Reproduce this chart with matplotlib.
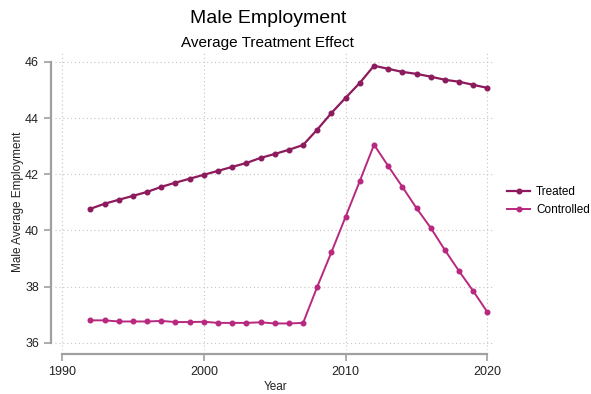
import matplotlib
matplotlib.use("Agg")
from matplotlib import pyplot as plt

plt.rcParams['font.family'] = ['Liberation Sans', 'DejaVu Sans']

years = list(range(1992, 2021))
treated = [40.77, 40.95, 41.09, 41.23, 41.37, 41.55, 41.70, 41.84, 41.98,
           42.12, 42.26, 42.40, 42.58, 42.72, 42.87, 43.04, 43.59, 44.18,
           44.72, 45.25, 45.86, 45.75, 45.64, 45.57, 45.47, 45.36, 45.29,
           45.18, 45.07]
controlled = [36.80, 36.80, 36.76, 36.76, 36.76, 36.78, 36.74, 36.74, 36.75,
              36.71, 36.71, 36.71, 36.73, 36.69, 36.69, 36.71, 38.00, 39.23,
              40.49, 41.76, 43.05, 42.29, 41.55, 40.79, 40.09, 39.30, 38.55,
              37.84, 37.09]
xticks = [1990, 2000, 2010, 2020]
yticks = [36, 38, 40, 42, 44, 46]

fig = plt.figure(figsize=(5.91, 3.94), dpi=100)
ax = fig.add_axes([0.093, 0.112, 0.745, 0.754])

ax.plot(years, treated, "o-", color="#8c1a5c", lw=1.6, ms=3.3, label="Treated")
ax.plot(years, controlled, "o-", color="#b8287f", lw=1.4, ms=3.3, label="Controlled")

ax.set_xlim(1989.5, 2020.55)
ax.set_ylim(35.75, 46.32)
ax.set_xticks(xticks)
ax.set_yticks(yticks)
ax.grid(True, linestyle=(0, (1, 2.5)), color="#c4c4c4", lw=0.8)

for s in ["top", "right"]:
    ax.spines[s].set_visible(False)
ax.spines["left"].set_position(("outward", 3))
ax.spines["bottom"].set_position(("outward", 3))
ax.spines["left"].set_bounds(36, 46)
ax.spines["bottom"].set_bounds(1990, 2020)
for s in ["left", "bottom"]:
    ax.spines[s].set_color("#a0a0a0")
    ax.spines[s].set_linewidth(1.6)
ax.tick_params(colors="#a0a0a0", width=1.2, length=5, labelcolor="#222222",
               labelsize=9)

ax.set_xlabel("Year", fontsize=8.5, color="#222222", labelpad=2)
ax.set_ylabel("Male Average Employment", fontsize=8.5, color="#222222", labelpad=1)

fig.text(0.453, 0.952, "Male Employment", ha="center", va="center", fontsize=14)
fig.text(0.453, 0.891, "Average Treatment Effect", ha="center", va="center", fontsize=11)

ax.legend(loc="center left", bbox_to_anchor=(1.01, 0.5), frameon=False,
          fontsize=8.5, handlelength=2.0, handletextpad=0.5, borderaxespad=0.2)

plt.savefig("out.png", dpi=100)
